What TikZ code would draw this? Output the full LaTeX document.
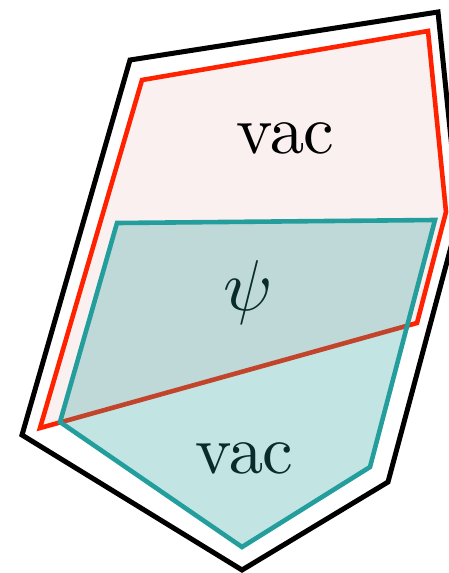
\documentclass[tikz,border=0pt]{standalone}
\definecolor{redc}{RGB}{255,34,0}
\definecolor{tealc}{RGB}{36,158,156}
\definecolor{pinkc}{RGB}{250,240,240}
\font\bigrm=cmr10 at 69pt
\font\bigmi=cmmi10 at 72pt
\begin{document}
\begin{tikzpicture}[x=1pt,y=-1pt,
  outerline/.style={draw=black,line width=5pt},
  redregion/.style={draw=redc,fill=pinkc,line width=4.6pt},
  tealfill/.style={fill=tealc,fill opacity=0.28},
  tealline/.style={draw=tealc,line width=4.6pt},
  lbl/.style={inner sep=0pt,font=\bigrm}]
\useasboundingbox (0,0) rectangle (449,573);
\clip (0,0) rectangle (449,573);
\draw[outerline] (130,60) -- (438,12) -- (459,217) -- (388,482) -- (242,570) -- (22,435) -- cycle;
\draw[redregion] (142,80) -- (428,31) -- (446,212) -- (417,323) -- (40,428) -- cycle;
\node[lbl] (vtop) at (285.5,138.5) {vac};
\node[lbl,font=\bigmi] (psi) at (247,292) {\char"20};
\node[lbl] (vbot) at (244.5,459) {vac};
\fill[tealfill] (117,223) -- (435,220) -- (370,467) -- (242,547) -- (60,422) -- cycle;
\draw[tealline] (117,223) -- (435,220) -- (370,467) -- (242,547) -- (60,422) -- cycle;
\end{tikzpicture}
\end{document}
